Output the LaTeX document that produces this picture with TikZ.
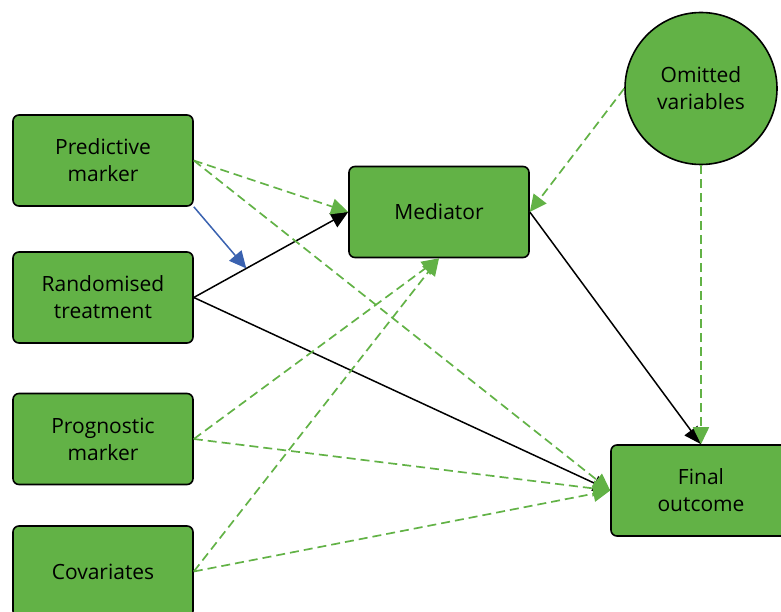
\documentclass[tikz,border=0pt]{standalone}
\usepackage{fontspec}
\setmainfont{Open Sans}
\usepackage{tikz}
\usetikzlibrary{arrows.meta}
\definecolor{boxgreen}{HTML}{62B246}
\definecolor{modblue}{HTML}{3A62B0}
\tikzstyle{var} = [draw=black, line width=1.6pt, fill=boxgreen, rounded corners=6pt, minimum width=180pt, minimum height=91pt, align=center, font=\fontsize{21}{27}\selectfont]
\tikzstyle{es} = [-{Triangle[length=17pt,width=16pt]}]
\tikzstyle{path} = [es, line width=1.5pt]
\tikzstyle{conf} = [es, line width=1.7pt, boxgreen, dash pattern=on 9pt off 5pt]

\begin{document}
\begin{tikzpicture}[yscale=-1, x=1pt, y=1pt]
			\useasboundingbox (0,0) rectangle (781,612);
			\node[var] (pred) at (103,160.5) {Predictive\\marker};
			\node[var] (treat) at (103,297.5) {Randomised\\treatment};
			\node[var] (prog) at (103,439) {Prognostic\\marker};
			\node[var] (cov) at (103,571.5) {Covariates};
			\node[var] (med) at (439,212) {Mediator};
			\node[var] (final) at (701,490.5) {Final\\outcome};
			\node[var, circle, minimum width=152pt, rounded corners=0pt] (omit) at (701,88.5) {Omitted\\variables};
			% solid paths
			\draw[path] (treat.east) -- (med.west) coordinate[pos=0.34] (mod);
			\draw[path] (treat.east) -- (final.west);
			\draw[path] (med.east) -- (final.north);
			\draw[path, modblue] (pred.south east) -- (mod);
			% dashed paths
			\draw[conf] (pred.east) -- (med.west);
			\draw[conf] (pred.east) -- (final.west);
			\draw[conf] (prog.east) -- (med.south);
			\draw[conf] (prog.east) -- (final.west);
			\draw[conf] (cov.east) -- (med.south);
			\draw[conf] (cov.east) -- (final.west);
			\draw[conf] (omit.west) -- (med.east);
			\draw[conf] (omit.south) -- (final.north);
		\end{tikzpicture}
\end{document}
